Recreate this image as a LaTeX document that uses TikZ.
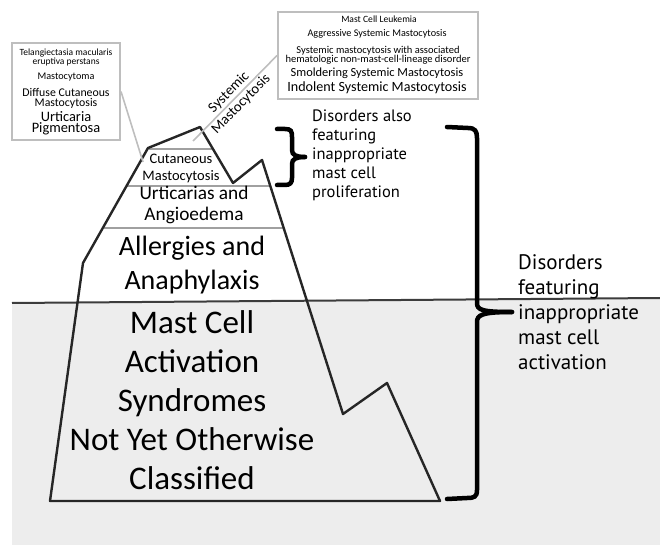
\documentclass[tikz,border=0pt]{standalone}
\usepackage{fontspec}
\setmainfont{Carlito}
\newfontfamily\bracefont{PT Sans}
\usetikzlibrary{positioning}
\definecolor{waterfill}{RGB}{237,237,237}
\definecolor{waterline}{RGB}{60,60,60}
\definecolor{boxgray}{RGB}{190,190,190}
\definecolor{layergray}{RGB}{160,160,160}
\tikzset{infobox/.style = {draw=boxgray, line width=2pt, inner sep=0pt},
         pointer/.style = {draw=boxgray, line width=1.6pt},
         layer/.style = {draw=layergray, line width=1.8pt},
         berg/.style = {draw=black!85, line width=2.4pt, line join=round},
         bracket/.style = {draw=black, line width=4.5pt, line cap=round},
         tag/.style = {inner sep=0pt, align=center},
         side/.style = {inner sep=0pt, align=left, anchor=west}}

\begin{document}
\begin{tikzpicture}[x=1pt, y=-1pt]
      \useasboundingbox (0, 0) rectangle (660, 545);
      \fill [waterfill] (12, 303) -- (660, 298) -- (660, 545) -- (12, 545) -- cycle;
      \draw [waterline, line width=2pt] (12, 303) -- (660, 298);

      \draw [layer] (149, 149) -- (212, 149);
      \draw [layer] (127, 186) -- (270, 186);
      \draw [layer] (104, 228) -- (284, 228);
      \draw [berg] (50, 501) -- (83, 263) -- (148, 148) -- (200, 127) -- (233, 183)
            -- (262, 160) -- (343, 414) -- (387, 383) -- (440, 501) -- cycle;

      \node [tag, font=\fontsize{14.5}{17}\selectfont] (cutaneous) at (181, 168)
            {Cutaneous\\Mastocytosis};
      \node [tag, font=\fontsize{19.3}{21}\selectfont] (urticaria) at (194, 205)
            {Urticarias and\\Angioedema};
      \node [tag, font=\fontsize{28}{34}\selectfont] (allergy) at (192, 265)
            {Allergies and\\Anaphylaxis};
      \node [tag, font=\fontsize{33}{39}\selectfont] (mcas) at (192, 400)
            {Mast Cell\\Activation\\Syndromes\\Not Yet Otherwise\\Classified};

      \node [infobox, minimum width=108pt, minimum height=97pt] (cutbox) at (66, 91.5) {};
      \node [tag, font=\fontsize{9.5}{7}\selectfont] (tmep) at (66, 57.5)
            {Telangiectasia macularis\\eruptiva perstans};
      \node [tag, font=\fontsize{10.2}{12}\selectfont] (cytoma) at (66, 77) {Mastocytoma};
      \node [tag, font=\fontsize{11.8}{10}\selectfont] (diffuse) at (66, 98)
            {Diffuse Cutaneous\\Mastocytosis};
      \node [tag, font=\fontsize{14.4}{11}\selectfont] (pigment) at (66, 123.5)
            {Urticaria\\Pigmentosa};

      \node [infobox, minimum width=200pt, minimum height=87pt] (sysbox) at (378, 55.5) {};
      \node [tag, font=\fontsize{9.6}{11}\selectfont] (leukemia) at (379, 19)
            {Mast Cell Leukemia};
      \node [tag, font=\fontsize{10.2}{12}\selectfont] (aggressive) at (377, 34)
            {Aggressive Systemic Mastocytosis};
      \node [tag, font=\fontsize{10.5}{9}\selectfont] (ahnmd) at (378, 55.5)
            {Systemic mastocytosis with associated\\hematologic non-mast-cell-lineage disorder};
      \node [tag, font=\fontsize{12.4}{14}\selectfont] (smoldering) at (377, 73)
            {Smoldering Systemic Mastocytosis};
      \node [tag, font=\fontsize{14.1}{16}\selectfont] (indolent) at (377, 88)
            {Indolent Systemic Mastocytosis};

      \coordinate (cutpeak) at (143, 162);
      \coordinate (syspeak) at (193, 141);
      \draw [pointer] (cutbox.east) -- (cutpeak);
      \draw [pointer] (syspeak) -- (sysbox.west)
            node [midway, sloped, tag, font=\fontsize{14.5}{17}\selectfont] (systemic)
            {Systemic\\Mastocytosis};

      \draw [bracket] (277, 129) -- (285, 129) .. controls (291, 129) and (292, 131) .. (292, 137)
            -- (292, 150) .. controls (292, 155) and (296, 157) .. (305, 157);
      \draw [bracket] (305, 157) .. controls (296, 157) and (292, 159) .. (292, 164)
            -- (292, 178) .. controls (292, 183) and (290, 185) .. (285, 185) -- (277, 185);
      \node [side, font=\bracefont\fontsize{16.5}{19}\selectfont] (prolif) at (312, 155)
            {Disorders also\\featuring\\inappropriate\\mast cell\\proliferation};

      \draw [bracket] (447, 127) -- (468, 128) .. controls (475, 128) and (477, 131) .. (477, 138)
            -- (477, 303) .. controls (477, 310) and (482, 312) .. (512, 312);
      \draw [bracket] (512, 312) .. controls (482, 312) and (477, 315) .. (477, 322)
            -- (477, 490) .. controls (477, 497) and (474, 498) .. (467, 498) -- (447, 499);
      \node [side, font=\bracefont\fontsize{21}{25}\selectfont] (activ) at (518, 312)
            {Disorders\\featuring\\inappropriate\\mast cell\\activation};
    \end{tikzpicture}
\end{document}
